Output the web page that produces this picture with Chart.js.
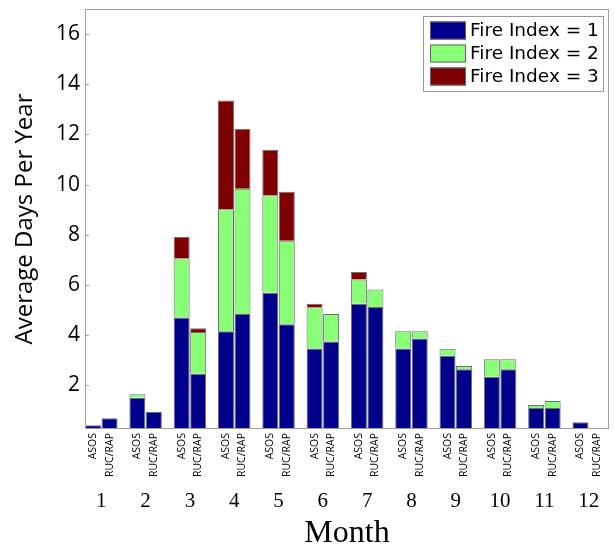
<!DOCTYPE html>
<html>
<head>
<meta charset="utf-8">
<script src="https://cdn.jsdelivr.net/npm/chart.js@4.4.0/dist/chart.umd.min.js"></script>
<style>
  html, body { margin: 0; padding: 0; background: #fff; overflow: hidden; }
  #wrap { width: 614px; height: 546px; }
</style>
</head>
<body>
<div id="wrap"><canvas id="myChart"></canvas></div>
<script>
var months = [1, 2, 3, 4, 5, 6, 7, 8, 9, 10, 11, 12];
var sources = ['ASOS', 'RUC/RAP'];
var fireLabels = ['Fire Index = 1', 'Fire Index = 2', 'Fire Index = 3'];
var fireColors = ['#00008b', '#88ff77', '#7f0000'];

// average days per year, one array per source and fire index
var asos1 = [0.40, 1.50, 4.70, 4.15, 5.68, 3.46, 5.25, 3.46, 3.17, 2.33, 1.09, 0.52];
var asos2 = [0, 0.14, 2.36, 4.86, 3.89, 1.65, 0.96, 0.69, 0.28, 0.70, 0.12, 0];
var asos3 = [0, 0, 0.85, 4.34, 1.82, 0.14, 0.30, 0, 0, 0, 0, 0];
var ruc1 = [0.68, 0.94, 2.45, 4.84, 4.43, 3.74, 5.12, 3.86, 2.63, 2.63, 1.09, 0];
var ruc2 = [0, 0, 1.67, 4.99, 3.33, 1.10, 0.69, 0.29, 0.13, 0.40, 0.28, 0];
var ruc3 = [0, 0, 0.15, 2.39, 1.95, 0, 0, 0, 0, 0, 0, 0];

function pts(vals) {
    return months.map(function (m, i) { return { x: m, y: vals[i] }; });
}

function ds(label, vals, color, stack) {
    return {
        label: label,
        data: pts(vals),
        backgroundColor: color,
        borderColor: '#6e6e6e',
        borderWidth: 1,
        stack: stack,
        categoryPercentage: 0.745,
        barPercentage: 0.97
    };
}

// frame box and small inward ticks on the left axis
var framePlugin = {
    id: 'frame',
    afterDatasetsDraw: function (chart) {
        var a = chart.chartArea, c = chart.ctx, y = chart.scales.y;
        c.save();
        c.strokeStyle = '#a0a0a0';
        c.lineWidth = 1;
        c.strokeRect(a.left + 0.5, a.top + 0.5, a.right - a.left - 1, a.bottom - a.top - 1);
        y.ticks.forEach(function (t) {
            var p = Math.round(y.getPixelForValue(t.value)) + 0.5;
            c.beginPath();
            c.moveTo(a.left, p);
            c.lineTo(a.left + 4, p);
            c.stroke();
        });
        c.restore();
    }
};

// rotated ASOS / RUC/RAP labels under each bar
var subLabelPlugin = {
    id: 'subLabels',
    afterDraw: function (chart) {
        var c = chart.ctx, bottom = chart.chartArea.bottom;
        c.save();
        c.font = '10.5px "Open Sans"';
        c.fillStyle = '#000';
        c.textAlign = 'right';
        c.textBaseline = 'middle';
        [0, 3].forEach(function (di, si) {
            chart.getDatasetMeta(di).data.forEach(function (bar) {
                c.save();
                c.translate(bar.x, bottom + 4);
                c.rotate(-Math.PI / 2);
                c.fillText(sources[si], 0, 0);
                c.restore();
            });
        });
        c.restore();
    }
};

// boxed legend in the top right corner
var legendPlugin = {
    id: 'boxLegend',
    afterDraw: function (chart) {
        var c = chart.ctx, a = chart.chartArea;
        var x0 = a.right - 186, y0 = a.top + 7;
        c.save();
        c.fillStyle = '#fff';
        c.fillRect(x0, y0, 180, 75);
        c.strokeStyle = '#999';
        c.lineWidth = 1;
        c.strokeRect(x0 + 0.5, y0 + 0.5, 180, 75);
        c.font = '18.5px "DejaVu Sans"';
        c.textBaseline = 'middle';
        c.textAlign = 'left';
        for (var i = 0; i < 3; i++) {
            var sy = y0 + 5.5 + i * 23;
            c.fillStyle = chart.data.datasets[i].backgroundColor;
            c.fillRect(x0 + 7, sy, 36, 18);
            c.strokeStyle = '#666';
            c.strokeRect(x0 + 7.5, sy + 0.5, 35, 17);
            c.fillStyle = '#000';
            c.fillText(chart.data.datasets[i].label, x0 + 47, sy + 10);
        }
        c.restore();
    }
};

var ctx = document.getElementById('myChart').getContext('2d');
var myChart = new Chart(ctx, {
    type: 'bar',
    data: {
        datasets: [
            ds(fireLabels[0], asos1, fireColors[0], 'asos'),
            ds(fireLabels[1], asos2, fireColors[1], 'asos'),
            ds(fireLabels[2], asos3, fireColors[2], 'asos'),
            ds(fireLabels[0], ruc1, fireColors[0], 'ruc'),
            ds(fireLabels[1], ruc2, fireColors[1], 'ruc'),
            ds(fireLabels[2], ruc3, fireColors[2], 'ruc')
        ]
    },
    options: {
        responsive: true,
        maintainAspectRatio: false,
        animation: false,
        layout: {
            padding: { top: 9, right: 5, left: 0, bottom: 0 }
        },
        plugins: {
            legend: { display: false },
            tooltip: { enabled: false }
        },
        scales: {
            x: {
                type: 'linear',
                stacked: true,
                offset: false,
                min: 0.632,
                max: 12.458,
                grid: { display: false, drawTicks: false },
                border: { display: false },
                ticks: {
                    stepSize: 1,
                    includeBounds: false,
                    autoSkip: false,
                    maxRotation: 0,
                    padding: 60,
                    color: '#000',
                    font: { family: '"Liberation Serif"', size: 21 }
                },
                title: {
                    display: true,
                    text: 'Month',
                    color: '#000',
                    font: { family: '"Liberation Serif"', size: 32, lineHeight: 0.8 },
                    padding: 0
                },
                afterFit: function (scale) {
                    scale.height = 117;
                    scale.paddingLeft = 0;
                    scale.paddingRight = 0;
                }
            },
            y: {
                stacked: true,
                min: 0.25,
                max: 17,
                grid: { display: false, drawTicks: false },
                border: { display: false },
                ticks: {
                    stepSize: 2,
                    includeBounds: false,
                    padding: 5,
                    color: '#000',
                    font: { family: '"Open Sans"', size: 21 }
                },
                title: {
                    display: true,
                    text: 'Average Days Per Year',
                    color: '#000',
                    font: { family: '"Open Sans"', size: 24 },
                    padding: { top: 11, bottom: 0 }
                },
                afterFit: function (scale) {
                    scale.width = 85;
                    scale.paddingTop = 0;
                    scale.paddingBottom = 0;
                }
            }
        }
    },
    plugins: [framePlugin, subLabelPlugin, legendPlugin]
});
</script>
</body>
</html>
